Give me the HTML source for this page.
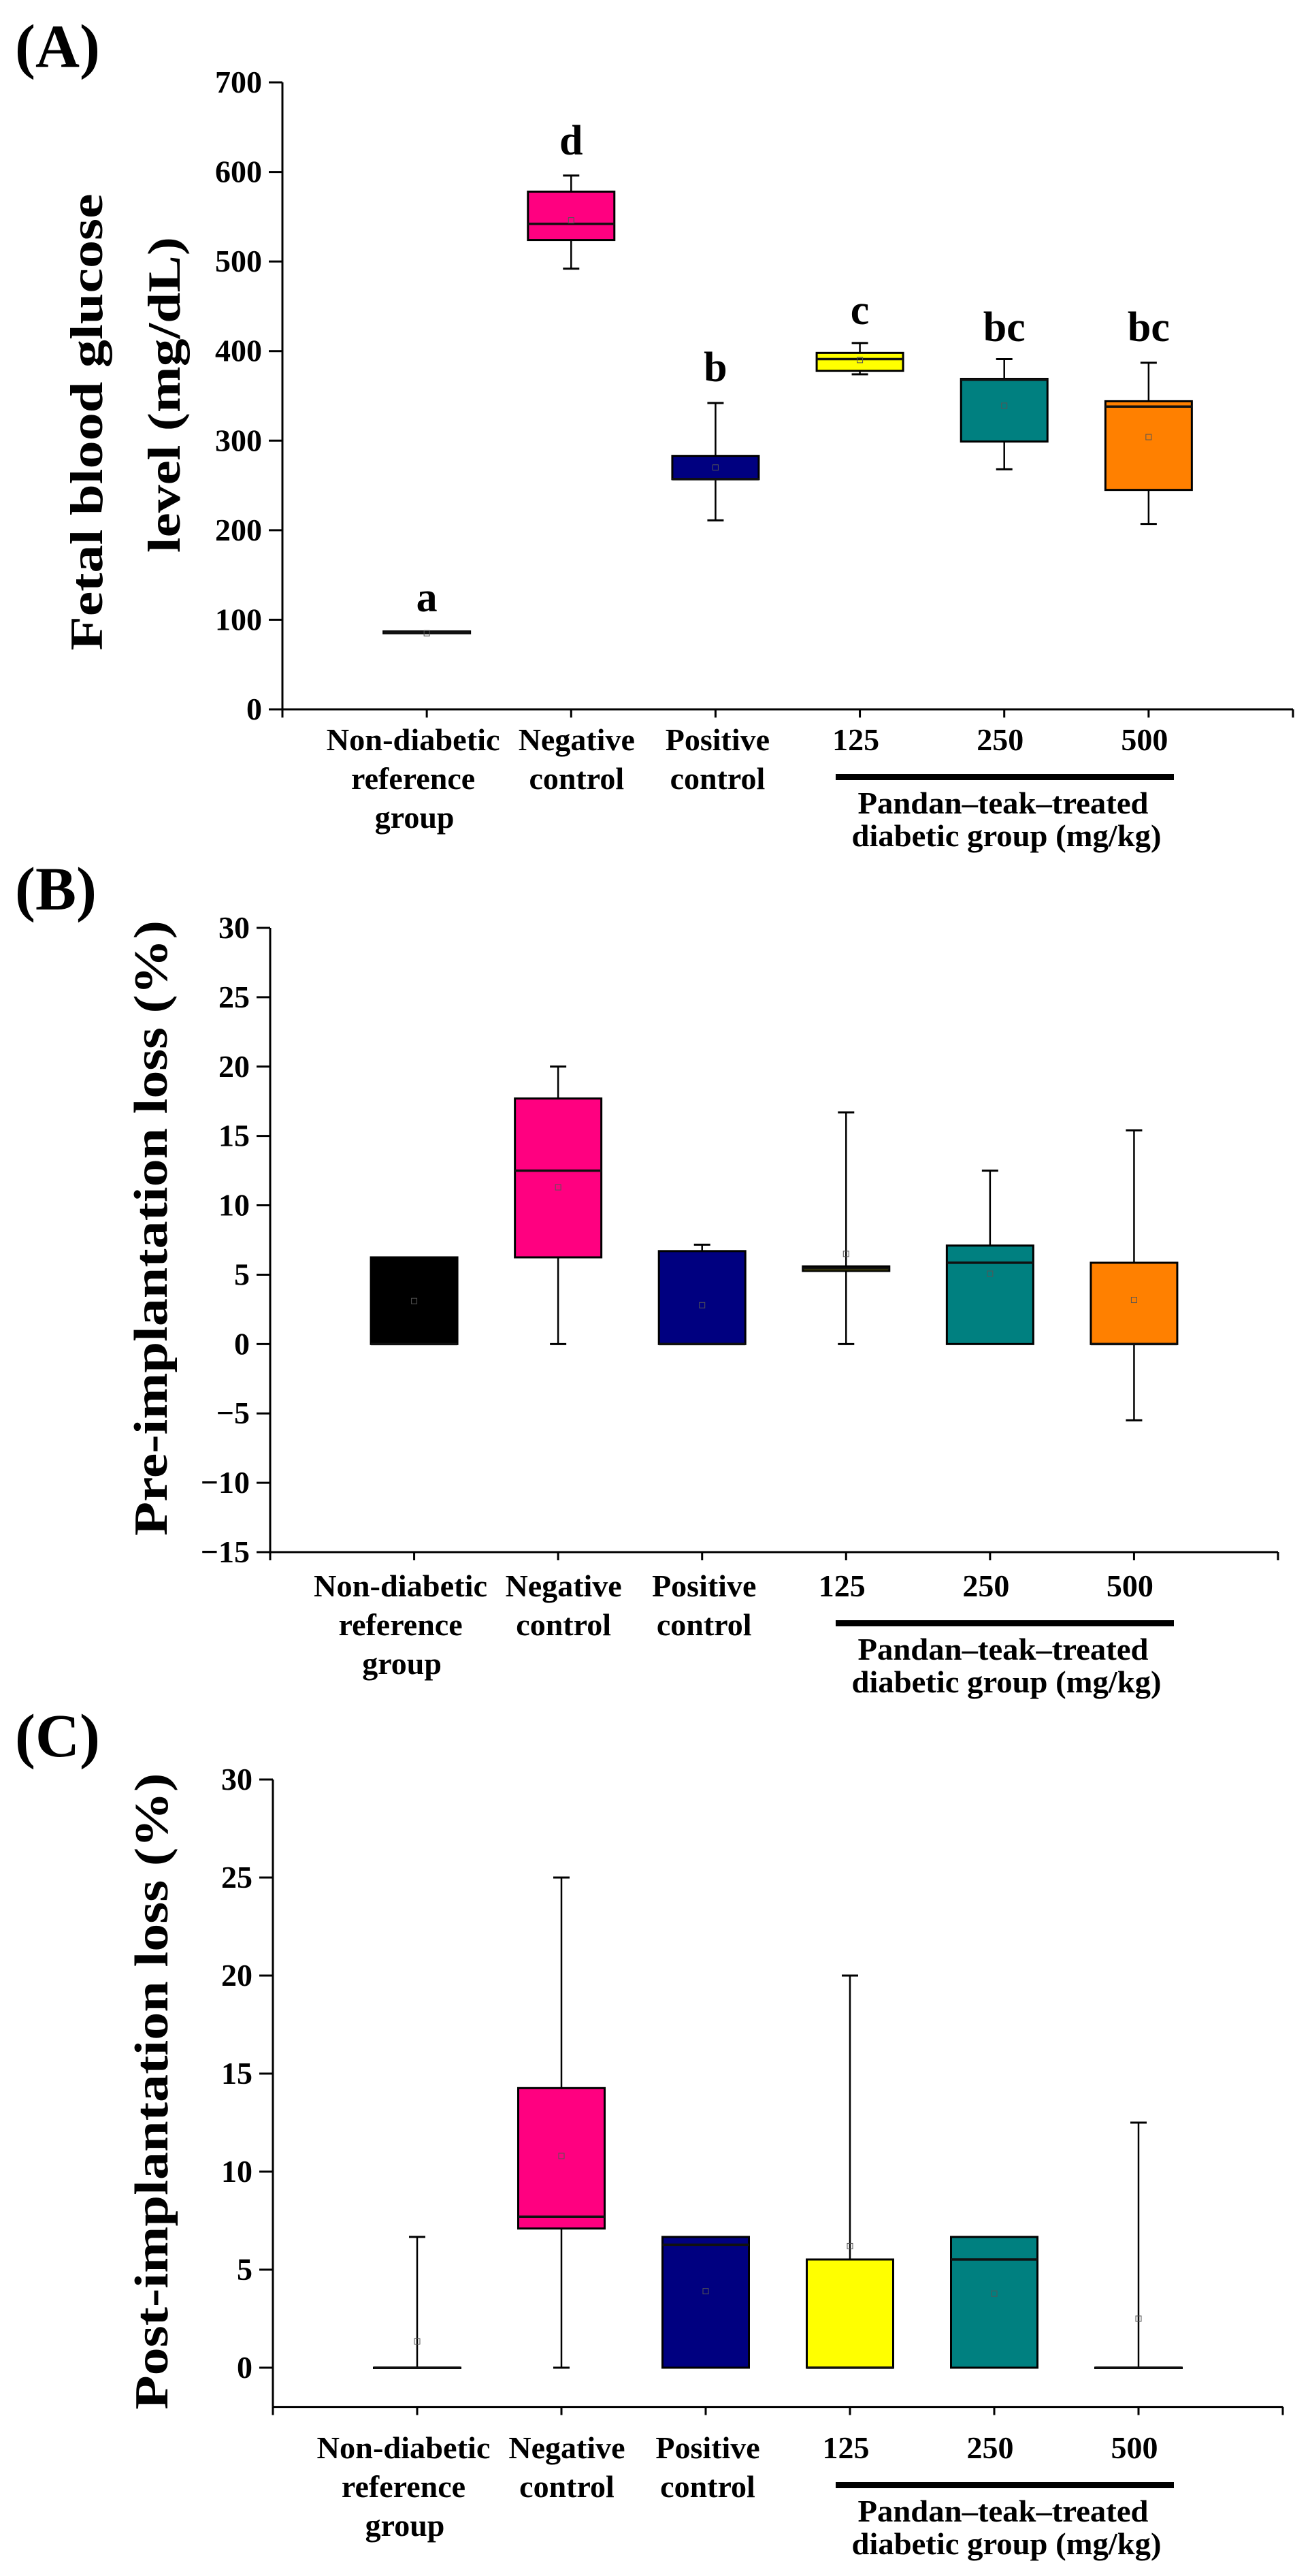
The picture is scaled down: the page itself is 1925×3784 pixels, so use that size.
<!DOCTYPE html>
<html><head><meta charset="utf-8"><style>
html,body{margin:0;padding:0;background:#fff;}
svg{display:block;}
text{font-family:"Liberation Serif","Times New Roman",serif;font-weight:bold;fill:#000;}
</style></head><body>
<svg id="chart" width="1925" height="3784" viewBox="0 0 1925 3784" xmlns="http://www.w3.org/2000/svg"></svg>
<script>
const categories=["Non-diabetic reference group","Negative control","Positive control","125","250","500"];
const colors=["#000000","#ff0080","#000080","#ffff00","#008080","#ff8000"];
// Panel A: fetal blood glucose
const aWhiskerLow=[85,492,211,374,268,207];
const aQ1=[85,524,257,378,299,245];
const aMedian=[86,542,257,391,368,338];
const aQ3=[87,578,283,398,369,344];
const aWhiskerHigh=[87,596,342,409,391,387];
const aMean=[85,546,270,390,339,304];
const aLetters=["a","d","b","c","bc","bc"];
const aLetterPos=[126,636,383,447,428,428];
const aTicks=[0,100,200,300,400,500,600,700];
// Panel B: pre-implantation loss
const bWhiskerLow=[0,0,0,0,0,-5.5];
const bQ1=[0,6.25,0,5.27,0,0];
const bMedian=[0,12.5,0,5.45,5.86,0];
const bQ3=[6.25,17.7,6.7,5.6,7.1,5.86];
const bWhiskerHigh=[6.25,20,7.16,16.7,12.5,15.4];
const bMean=[3.1,11.3,2.8,6.5,5.07,3.18];
const bTicks=[-15,-10,-5,0,5,10,15,20,25,30];
// Panel C: post-implantation loss
const cWhiskerLow=[0,0,0,0,0,0];
const cQ1=[0,7.1,0,0,0,0];
const cMedian=[0,7.7,6.27,0,5.52,0];
const cQ3=[0,14.26,6.67,5.52,6.67,0];
const cWhiskerHigh=[6.67,25,6.67,20,6.67,12.5];
const cMean=[1.34,10.8,3.9,6.2,3.78,2.5];
const cTicks=[0,5,10,15,20,25,30];

const NS="http://www.w3.org/2000/svg";
const svg=document.getElementById('chart');
function mk(tag,attrs,parent){const e=document.createElementNS(NS,tag);for(const k in attrs)e.setAttribute(k,attrs[k]);(parent||svg).appendChild(e);return e;}

function panel(cfg){
  const g=mk('g',{});
  
  
  const yS=v=>cfg.yAtTop+(cfg.maxV-v)*(cfg.yAtZero-cfg.yAtTop)/(cfg.maxV-0);
  const step=(cfg.x1-cfg.x0)/7;
  const xS=i=>cfg.x0+(i+1)*step;
  const axisY=yS(cfg.minV);
  const pl=mk('text',{x:22,y:cfg.letterY,'font-size':90},g);pl.textContent=cfg.letter;
  
  
  const ya=mk('line',{x1:cfg.x0,y1:yS(cfg.maxV),x2:cfg.x0,y2:axisY,stroke:'#000','stroke-width':3},g);
  
  
  cfg.ticks.forEach(t=>{
    const y=yS(t);
    mk('line',{x1:cfg.x0-20,y1:y,x2:cfg.x0,y2:y,stroke:'#000','stroke-width':3},g);
    const tl=mk('text',{x:cfg.x0-30,y:y+15,'font-size':46,'text-anchor':'end'},g);
    tl.textContent=t<0?('\u2212'+Math.abs(t)):String(t);
    
    
  });
  const xa=mk('line',{x1:cfg.x0,y1:axisY,x2:cfg.x1,y2:axisY,stroke:'#000','stroke-width':3},g);
  
  
  for(let i=0;i<=7;i++){mk('line',{x1:cfg.x0+i*step,y1:axisY,x2:cfg.x0+i*step,y2:axisY+12,stroke:'#000','stroke-width':3},g);}
  cfg.title.forEach(t=>{
    const tt=mk('text',{x:0,y:0,'font-size':t.fs,'text-anchor':'middle',transform:`translate(${t.x},${t.cy}) rotate(-90)`,textLength:t.len,lengthAdjust:'spacingAndGlyphs'},g);
    tt.textContent=t.s;
    
    
  });
  for(let i=0;i<categories.length;i++){
    const cx=xS(i),w=127;
    const bg=mk('g',{},g);
    
    
    const wl=cfg.wl[i],wh=cfg.wh[i],q1=cfg.q1[i],q3=cfg.q3[i];
    mk('line',{x1:cx,y1:yS(wh),x2:cx,y2:yS(q3),stroke:'#000','stroke-width':2.5},bg);
    mk('line',{x1:cx,y1:yS(q1),x2:cx,y2:yS(wl),stroke:'#000','stroke-width':2.5},bg);
    if(wh>q3)mk('line',{x1:cx-12,y1:yS(wh),x2:cx+12,y2:yS(wh),stroke:'#000','stroke-width':3},bg);
    if(wl<q1)mk('line',{x1:cx-12,y1:yS(wl),x2:cx+12,y2:yS(wl),stroke:'#000','stroke-width':3},bg);
    const top=yS(q3),bot=yS(q1);
    mk('rect',{x:cx-w/2,y:top,width:w,height:Math.max(bot-top,0.5),fill:colors[i],stroke:'#000','stroke-width':3},bg);
    mk('line',{x1:cx-w/2,y1:yS(cfg.med[i]),x2:cx+w/2,y2:yS(cfg.med[i]),stroke:'#111','stroke-width':3.5},bg);
    mk('rect',{x:cx-4,y:yS(cfg.mean[i])-4,width:8,height:8,fill:'none',stroke:'#555','stroke-width':1},bg);
    if(cfg.letters){
      const lt=mk('text',{x:cx,y:yS(cfg.letterPos[i])+22,'font-size':62,'text-anchor':'middle'},bg);
      lt.textContent=cfg.letters[i];
      
      
    }
  }
  const lb=cfg.labBase;
  const L=(s,x,y,len)=>{const a={x:x,y:y,'font-size':46,'text-anchor':'middle'};if(len){a.textLength=len;a.lengthAdjust='spacingAndGlyphs';}const t=mk('text',a,g);t.textContent=s;
    
    return t;};
  L('Non-diabetic',xS(0)-20,lb,255);L('reference',xS(0)-20,lb+57);L('group',xS(0)-18,lb+114);
  L('Negative',xS(1)+8,lb);L('control',xS(1)+8,lb+57);
  L('Positive',xS(2)+3,lb);L('control',xS(2)+3,lb+57);
  L('125',xS(3)-6,lb);L('250',xS(4)-6,lb);L('500',xS(5)-6,lb);
  const br=mk('rect',{x:1228,y:lb+35,width:497,height:9,fill:'#000'},g);
  
  
  L('Pandan\u2013teak\u2013treated',1474,lb+93,427);
  L('diabetic group (mg/kg)',1479,lb+141,455);
}

panel({name:'panel-a-fetal-glucose',letter:'(A)',letterY:98,x0:415,x1:1900,yAtTop:121,yAtZero:1042,maxV:700,minV:0,ticks:aTicks,
  wl:aWhiskerLow,q1:aQ1,med:aMedian,q3:aQ3,wh:aWhiskerHigh,mean:aMean,letters:aLetters,letterPos:aLetterPos,labBase:1102,
  title:[{s:'Fetal blood glucose',x:150,cy:620,fs:68,len:671},{s:'level (mg/dL)',x:264,cy:580,fs:68,len:464}]});
panel({name:'panel-b-pre-implantation',letter:'(B)',letterY:1336,x0:397,x1:1878,yAtTop:1363,yAtZero:1363+30*(2280-1363)/45,maxV:30,minV:-15,ticks:bTicks,
  wl:bWhiskerLow,q1:bQ1,med:bMedian,q3:bQ3,wh:bWhiskerHigh,mean:bMean,labBase:2345,
  title:[{s:'Pre-implantation loss (%)',x:245,cy:1804,fs:70,len:904}]});
panel({name:'panel-c-post-implantation',letter:'(C)',letterY:2580,x0:401,x1:1885,yAtTop:2614,yAtZero:3478,maxV:30,minV:-2,ticks:cTicks,
  wl:cWhiskerLow,q1:cQ1,med:cMedian,q3:cQ3,wh:cWhiskerHigh,mean:cMean,labBase:3611,
  title:[{s:'Post-implantation loss (%)',x:246,cy:3072,fs:70,len:935}]});
</script>
</body></html>
